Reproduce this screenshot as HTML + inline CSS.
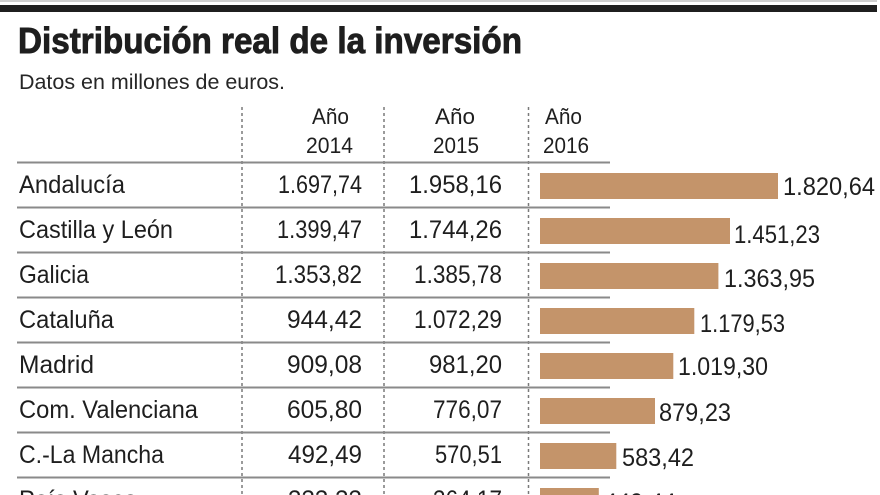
<!DOCTYPE html>
<html>
<head>
<meta charset="utf-8">
<style>
  html, body { margin: 0; padding: 0; background: #ffffff; }
  body { width: 880px; height: 495px; overflow: hidden; }
  svg { display: block; }
  text { font-family: "Liberation Sans", "DejaVu Sans", sans-serif; fill: #1e1e1e; }
</style>
</head>
<body>
<svg width="880" height="495" viewBox="0 0 880 495" xmlns="http://www.w3.org/2000/svg">
  <rect x="0" y="0" width="880" height="495" fill="#ffffff"/>
  <!-- top rules -->
  <rect x="0" y="0" width="877" height="2" fill="#cfcfcf"/>
  <rect x="0" y="5" width="877" height="7" fill="#1f1f1f"/>

  <!-- title -->
  <text x="18" y="53" font-size="36" font-weight="bold" textLength="504" lengthAdjust="spacingAndGlyphs" style="fill:#1e1e1e;stroke:#1e1e1e;stroke-width:0.9">Distribución real de la inversión</text>
  <text x="19" y="89" font-size="21" textLength="266" lengthAdjust="spacingAndGlyphs" style="fill:#262626">Datos en millones de euros.</text>

  <!-- headers -->
  <g font-size="22" style="fill:#2a2a2a">
    <text x="312" y="124" textLength="37" lengthAdjust="spacingAndGlyphs">Año</text>
    <text x="306" y="153" textLength="47" lengthAdjust="spacingAndGlyphs">2014</text>
    <text x="435" y="124" textLength="40" lengthAdjust="spacingAndGlyphs">Año</text>
    <text x="433" y="153" textLength="46" lengthAdjust="spacingAndGlyphs">2015</text>
    <text x="545" y="124" textLength="37" lengthAdjust="spacingAndGlyphs">Año</text>
    <text x="543" y="153" textLength="46" lengthAdjust="spacingAndGlyphs">2016</text>
  </g>

  <!-- dotted verticals -->
  <g stroke="#7a7a7a" stroke-width="1.5" stroke-dasharray="3,3">
    <line x1="242" y1="107" x2="242" y2="495"/>
    <line x1="384" y1="107" x2="384" y2="495"/>
    <line x1="528.5" y1="107" x2="528.5" y2="495"/>
  </g>

  <!-- horizontal row lines -->
  <g fill="#8a8a8a">
    <rect x="17" y="161.5" width="593" height="2"/>
    <rect x="17" y="206.5" width="593" height="2"/>
    <rect x="17" y="251.5" width="593" height="2"/>
    <rect x="17" y="296.5" width="593" height="2"/>
    <rect x="17" y="341.5" width="593" height="2"/>
    <rect x="17" y="386.5" width="593" height="2"/>
    <rect x="17" y="431.5" width="593" height="2"/>
    <rect x="17" y="476.5" width="593" height="2"/>
  </g>

  <!-- bars -->
  <g fill="#c4946a">
    <rect x="540" y="173" width="238" height="26"/>
    <rect x="540" y="218" width="190" height="26"/>
    <rect x="540" y="263" width="178.4" height="26"/>
    <rect x="540" y="308" width="154.3" height="26"/>
    <rect x="540" y="353" width="133.3" height="26"/>
    <rect x="540" y="398" width="115" height="26"/>
    <rect x="540" y="443" width="76.3" height="26"/>
    <rect x="540" y="488" width="58.8" height="26"/>
  </g>

  <!-- region names -->
  <g font-size="25">
    <text x="19" y="193" textLength="106" lengthAdjust="spacingAndGlyphs">Andalucía</text>
    <text x="19" y="238" textLength="154" lengthAdjust="spacingAndGlyphs">Castilla y León</text>
    <text x="19" y="283" textLength="70" lengthAdjust="spacingAndGlyphs">Galicia</text>
    <text x="19" y="328" textLength="95" lengthAdjust="spacingAndGlyphs">Cataluña</text>
    <text x="19" y="373" textLength="75" lengthAdjust="spacingAndGlyphs">Madrid</text>
    <text x="19" y="418" textLength="179" lengthAdjust="spacingAndGlyphs">Com. Valenciana</text>
    <text x="19" y="463" textLength="145" lengthAdjust="spacingAndGlyphs">C.-La Mancha</text>
    <text x="19" y="508" textLength="118" lengthAdjust="spacingAndGlyphs">País Vasco</text>
  </g>

  <!-- 2014 column -->
  <g font-size="25" text-anchor="end">
    <text x="362" y="193" textLength="84" lengthAdjust="spacingAndGlyphs">1.697,74</text>
    <text x="362" y="238" textLength="85" lengthAdjust="spacingAndGlyphs">1.399,47</text>
    <text x="362" y="283" textLength="87" lengthAdjust="spacingAndGlyphs">1.353,82</text>
    <text x="362" y="328" textLength="75" lengthAdjust="spacingAndGlyphs">944,42</text>
    <text x="362" y="373" textLength="75" lengthAdjust="spacingAndGlyphs">909,08</text>
    <text x="362" y="418" textLength="75" lengthAdjust="spacingAndGlyphs">605,80</text>
    <text x="362" y="463" textLength="74" lengthAdjust="spacingAndGlyphs">492,49</text>
    <text x="362" y="508" textLength="74" lengthAdjust="spacingAndGlyphs">333,33</text>
  </g>

  <!-- 2015 column -->
  <g font-size="25" text-anchor="end">
    <text x="502" y="193" textLength="93" lengthAdjust="spacingAndGlyphs">1.958,16</text>
    <text x="502" y="238" textLength="93" lengthAdjust="spacingAndGlyphs">1.744,26</text>
    <text x="502" y="283" textLength="88" lengthAdjust="spacingAndGlyphs">1.385,78</text>
    <text x="502" y="328" textLength="88" lengthAdjust="spacingAndGlyphs">1.072,29</text>
    <text x="502" y="373" textLength="73" lengthAdjust="spacingAndGlyphs">981,20</text>
    <text x="502" y="418" textLength="69" lengthAdjust="spacingAndGlyphs">776,07</text>
    <text x="502" y="463" textLength="67" lengthAdjust="spacingAndGlyphs">570,51</text>
    <text x="502" y="508" textLength="69" lengthAdjust="spacingAndGlyphs">364,17</text>
  </g>

  <!-- bar labels -->
  <g font-size="25" style="fill:#1a1a1a">
    <text x="783" y="195" textLength="92" lengthAdjust="spacingAndGlyphs">1.820,64</text>
    <text x="734" y="243" textLength="86" lengthAdjust="spacingAndGlyphs">1.451,23</text>
    <text x="724" y="287" textLength="91" lengthAdjust="spacingAndGlyphs">1.363,95</text>
    <text x="700" y="332" textLength="85" lengthAdjust="spacingAndGlyphs">1.179,53</text>
    <text x="678" y="375" textLength="90" lengthAdjust="spacingAndGlyphs">1.019,30</text>
    <text x="659" y="421" textLength="72" lengthAdjust="spacingAndGlyphs">879,23</text>
    <text x="622" y="466" textLength="72" lengthAdjust="spacingAndGlyphs">583,42</text>
    <text x="604" y="511" textLength="72" lengthAdjust="spacingAndGlyphs">449,44</text>
  </g>
</svg>
</body>
</html>
